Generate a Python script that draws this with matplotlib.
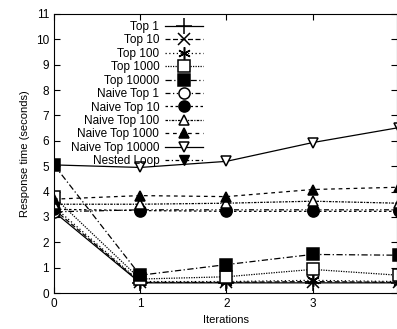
import matplotlib as mpl
mpl.use('Agg')
import matplotlib.pyplot as plt

iterations = [0, 1, 2, 3, 4]

top1 = [3.2, 0.4, 0.4, 0.4, 0.4]
top10 = [3.3, 0.42, 0.42, 0.45, 0.42]
top100 = [3.4, 0.45, 0.45, 0.5, 0.45]
top1000 = [3.78, 0.55, 0.64, 0.93, 0.7]
top10000 = [5.05, 0.7, 1.12, 1.52, 1.49]
naive1 = [3.2, 3.28, 3.28, 3.28, 3.28]
naive10 = [3.3, 3.25, 3.22, 3.22, 3.22]
naive100 = [3.5, 3.5, 3.54, 3.62, 3.54]
naive1000 = [3.7, 3.84, 3.8, 4.08, 4.17]
naive10000 = [5.05, 4.95, 5.19, 5.93, 6.52]
nested_x = [0]
nested = [5.05]

names = ["Top 1", "Top 10", "Top 100", "Top 1000", "Top 10000",
         "Naive Top 1", "Naive Top 10", "Naive Top 100", "Naive Top 1000",
         "Naive Top 10000", "Nested Loop"]

plt.rcParams['font.family'] = ['Liberation Sans', 'DejaVu Sans']
plt.rcParams['font.size'] = 8

fig = plt.figure(figsize=(3.97, 3.29), dpi=100)
ax = fig.add_axes([54/397, 36/329, 343/397, 279/329])

series = [top1, top10, top100, top1000, top10000,
          naive1, naive10, naive100, naive1000, naive10000]
styles = [
    ('-', '+', 'k', 11),
    ((0, (4, 2)), 'x', 'k', 8),
    ((0, (1, 2)), (6, 2, 0), 'k', 9),
    ((0, (1, 1)), 's', 'white', 8),
    ((0, (5, 2, 1, 2)), 's', 'k', 8),
    ((0, (4, 2, 1, 2, 1, 2)), 'o', 'white', 8),
    ((0, (2, 2)), 'o', 'k', 8),
    ((0, (2, 1, 1, 1)), '^', 'white', 7),
    ((0, (3, 3)), '^', 'k', 7),
    ('-', 'v', 'white', 7),
]
for vals, name, (ls, mk, fc, ms) in zip(series, names, styles):
    ax.plot(iterations, vals, color='k', linestyle=ls, linewidth=0.9,
            marker=mk, markerfacecolor=fc, markeredgecolor='k',
            markersize=ms, markeredgewidth=1.1, label=name)
ax.plot(nested_x, nested, color='k', linestyle=(0, (3, 2, 1, 2)), linewidth=0.9,
        marker='v', markerfacecolor='k', markeredgecolor='k', markersize=7,
        label=names[10])

ax.set_xlim(0, 3.98)
ax.set_ylim(0, 11)
ax.set_xticks([0, 1, 2, 3])
ax.set_yticks(range(0, 12))
ax.tick_params(direction='in', top=True, right=True, length=4, labelsize=8.5)
ax.set_xlabel("Iterations", fontsize=8)
ax.set_ylabel("Response time (seconds)", fontsize=8)
ax.legend(loc='upper right', bbox_to_anchor=(0.455, 1.0), frameon=False,
          markerfirst=False, handlelength=3.2, labelspacing=0.12,
          borderaxespad=0.2, handletextpad=0.5, fontsize=8.5)

fig.savefig("out.png", dpi=100)
